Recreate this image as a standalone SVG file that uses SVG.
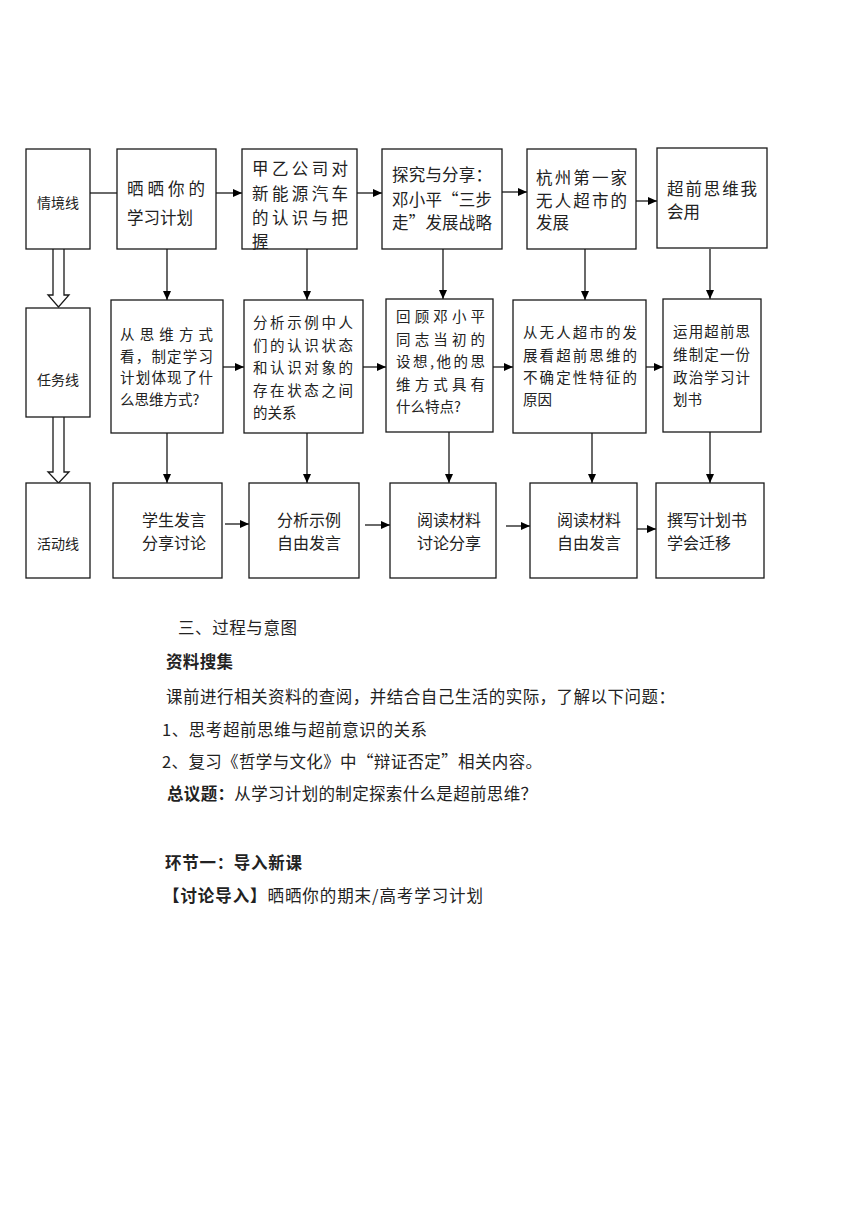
<svg xmlns="http://www.w3.org/2000/svg" width="860" height="1216" viewBox="0 0 860 1216">
<defs>
<marker id="ah" markerUnits="userSpaceOnUse" markerWidth="9" markerHeight="8" refX="9" refY="4" orient="auto">
<path d="M0,0 L9,4 L0,8 z" fill="#000"/>
</marker>
<style>
.box{fill:#fff;stroke:#1a1a1a;stroke-width:1.3}
.c{fill:none;stroke:#1a1a1a;stroke-width:1.3}
.a{fill:none;stroke:#1a1a1a;stroke-width:1.3;marker-end:url(#ah)}
text{font-family:"Noto Sans CJK SC","Noto Sans",sans-serif;fill:#222}
.lab{font-size:14px;text-anchor:middle}
.t1{font-size:16.5px}
.t2{font-size:14.5px}
.t3{font-size:16px}
.body{font-size:16.5px}
.b{font-weight:bold}
</style>
</defs>
<rect width="860" height="1216" fill="#fff"/>

<g id="connectors">
<line class="c" x1="90" y1="193" x2="117" y2="193"/>
<line class="a" x1="216" y1="193" x2="242" y2="193"/>
<line class="a" x1="357" y1="193" x2="382" y2="193"/>
<line class="a" x1="502" y1="192" x2="527" y2="192"/>
<line class="a" x1="633" y1="201" x2="657" y2="201"/>
<line class="a" x1="167" y1="249" x2="167" y2="300"/>
<line class="a" x1="307" y1="249" x2="307" y2="300"/>
<line class="a" x1="443" y1="249" x2="443" y2="299"/>
<line class="a" x1="585" y1="249" x2="585" y2="300"/>
<line class="a" x1="710" y1="249" x2="710" y2="299"/>
<line class="a" x1="223" y1="367" x2="244" y2="367"/>
<line class="a" x1="363" y1="367" x2="386" y2="367"/>
<line class="a" x1="493" y1="367" x2="513" y2="367"/>
<line class="a" x1="646" y1="367" x2="663" y2="367"/>
<line class="a" x1="167" y1="433" x2="167" y2="483"/>
<line class="a" x1="307" y1="433" x2="307" y2="483"/>
<line class="a" x1="449" y1="432" x2="449" y2="483"/>
<line class="a" x1="592" y1="433" x2="592" y2="483"/>
<line class="a" x1="710" y1="432" x2="710" y2="483"/>
<line class="a" x1="225" y1="524" x2="249" y2="524"/>
<line class="a" x1="365" y1="525" x2="390" y2="525"/>
<line class="a" x1="506" y1="526" x2="530" y2="526"/>
<line class="a" x1="637" y1="529" x2="656" y2="529"/>
<path class="box" d="M53,249 L53,295 L48,295 L58.5,307 L69,295 L64,295 L64,249"/>
<path class="box" d="M53,417 L53,472 L48,472 L58.5,483 L69,472 L64,472 L64,417"/>
</g>

<g id="n-qingjing">
<rect class="box" x="26" y="149" width="64" height="100"/>
<text class="lab" x="58" y="208">情境线</text>
</g>
<g id="n-renwu">
<rect class="box" x="26" y="308" width="64" height="109"/>
<text class="lab" x="58" y="385">任务线</text>
</g>
<g id="n-huodong">
<rect class="box" x="26" y="483" width="64" height="95"/>
<text class="lab" x="58" y="549">活动线</text>
</g>

<g id="n-r1c1">
<rect class="box" x="117" y="149" width="99" height="100"/>
<text class="t1" x="127" y="195" textLength="78" lengthAdjust="spacing">晒晒你的</text>
<text class="t1" x="127" y="224">学习计划</text>
</g>
<g id="n-r1c2">
<rect class="box" x="242" y="149" width="115" height="100"/>
<text class="t1" x="252" y="175" textLength="96" lengthAdjust="spacing">甲乙公司对</text>
<text class="t1" x="252" y="200" textLength="96" lengthAdjust="spacing">新能源汽车</text>
<text class="t1" x="252" y="224" textLength="96" lengthAdjust="spacing">的认识与把</text>
<text class="t1" x="252" y="248">握</text>
</g>
<g id="n-r1c3">
<rect class="box" x="382" y="149" width="120" height="100"/>
<text class="t1" x="392" y="181" textLength="100" lengthAdjust="spacing">探究与分享：</text>
<text class="t1" x="392" y="206" textLength="100" lengthAdjust="spacing">邓小平“三步</text>
<text class="t1" x="392" y="229" textLength="100" lengthAdjust="spacing">走”发展战略</text>
</g>
<g id="n-r1c4">
<rect class="box" x="527" y="149" width="109" height="100"/>
<text class="t1" x="536" y="184" textLength="91" lengthAdjust="spacing">杭州第一家</text>
<text class="t1" x="536" y="207" textLength="91" lengthAdjust="spacing">无人超市的</text>
<text class="t1" x="536" y="229">发展</text>
</g>
<g id="n-r1c5">
<rect class="box" x="657" y="148" width="110" height="100"/>
<text class="t1" x="667" y="195" textLength="90" lengthAdjust="spacing">超前思维我</text>
<text class="t1" x="667" y="218">会用</text>
</g>

<g id="n-r2c1">
<rect class="box" x="111" y="300" width="112" height="133"/>
<text class="t2" x="120" y="340" textLength="93" lengthAdjust="spacing">从思维方式</text>
<text class="t2" x="120" y="362" textLength="93" lengthAdjust="spacing">看，制定学习</text>
<text class="t2" x="120" y="383" textLength="93" lengthAdjust="spacing">计划体现了什</text>
<text class="t2" x="120" y="405">么思维方式?</text>
</g>
<g id="n-r2c2">
<rect class="box" x="244" y="300" width="119" height="133"/>
<text class="t2" x="253" y="328" textLength="100" lengthAdjust="spacing">分析示例中人</text>
<text class="t2" x="253" y="351" textLength="100" lengthAdjust="spacing">们的认识状态</text>
<text class="t2" x="253" y="373" textLength="100" lengthAdjust="spacing">和认识对象的</text>
<text class="t2" x="253" y="396" textLength="100" lengthAdjust="spacing">存在状态之间</text>
<text class="t2" x="253" y="418">的关系</text>
</g>
<g id="n-r2c3">
<rect class="box" x="386" y="299" width="107" height="133"/>
<text class="t2" x="396" y="322" textLength="89" lengthAdjust="spacing">回顾邓小平</text>
<text class="t2" x="396" y="345" textLength="89" lengthAdjust="spacing">同志当初的</text>
<text class="t2" x="396" y="367" textLength="89" lengthAdjust="spacing">设想,他的思</text>
<text class="t2" x="396" y="390" textLength="89" lengthAdjust="spacing">维方式具有</text>
<text class="t2" x="396" y="412">什么特点?</text>
</g>
<g id="n-r2c4">
<rect class="box" x="513" y="300" width="133" height="133"/>
<text class="t2" x="523" y="338" textLength="114" lengthAdjust="spacing">从无人超市的发</text>
<text class="t2" x="523" y="361" textLength="114" lengthAdjust="spacing">展看超前思维的</text>
<text class="t2" x="523" y="383" textLength="114" lengthAdjust="spacing">不确定性特征的</text>
<text class="t2" x="523" y="405">原因</text>
</g>
<g id="n-r2c5">
<rect class="box" x="663" y="299" width="98" height="133"/>
<text class="t2" x="673" y="337" textLength="77" lengthAdjust="spacing">运用超前思</text>
<text class="t2" x="673" y="360" textLength="77" lengthAdjust="spacing">维制定一份</text>
<text class="t2" x="673" y="383" textLength="77" lengthAdjust="spacing">政治学习计</text>
<text class="t2" x="673" y="405">划书</text>
</g>

<g id="n-r3c1">
<rect class="box" x="113" y="483" width="109" height="95"/>
<text class="t3" x="142" y="526">学生发言</text>
<text class="t3" x="142" y="549">分享讨论</text>
</g>
<g id="n-r3c2">
<rect class="box" x="249" y="483" width="110" height="95"/>
<text class="t3" x="277" y="526">分析示例</text>
<text class="t3" x="277" y="549">自由发言</text>
</g>
<g id="n-r3c3">
<rect class="box" x="390" y="483" width="106" height="95"/>
<text class="t3" x="417" y="526">阅读材料</text>
<text class="t3" x="417" y="549">讨论分享</text>
</g>
<g id="n-r3c4">
<rect class="box" x="530" y="483" width="107" height="95"/>
<text class="t3" x="557" y="526">阅读材料</text>
<text class="t3" x="557" y="549">自由发言</text>
</g>
<g id="n-r3c5">
<rect class="box" x="656" y="483" width="108" height="95"/>
<text class="t3" x="667" y="526">撰写计划书</text>
<text class="t3" x="667" y="549">学会迁移</text>
</g>

<g id="body-text">
<text class="body" x="178" y="634" textLength="119" lengthAdjust="spacing">三、过程与意图</text>
<text class="body b" x="166" y="668" textLength="67" lengthAdjust="spacing">资料搜集</text>
<text class="body" x="166" y="703" textLength="509" lengthAdjust="spacing">课前进行相关资料的查阅，并结合自己生活的实际，了解以下问题：</text>
<text class="body" x="162" y="736" textLength="265" lengthAdjust="spacing">1、思考超前思维与超前意识的关系</text>
<text class="body" x="162" y="768" textLength="380" lengthAdjust="spacing">2、复习《哲学与文化》中“辩证否定”相关内容。</text>
<text class="body" x="167" y="800" textLength="370" lengthAdjust="spacing"><tspan class="b">总议题：</tspan>从学习计划的制定探索什么是超前思维？</text>
<text class="body b" x="165" y="869" textLength="137" lengthAdjust="spacing">环节一：导入新课</text>
<text class="body" x="163" y="902" textLength="320" lengthAdjust="spacing"><tspan class="b">【讨论导入】</tspan>晒晒你的期末/高考学习计划</text>
</g>
</svg>
